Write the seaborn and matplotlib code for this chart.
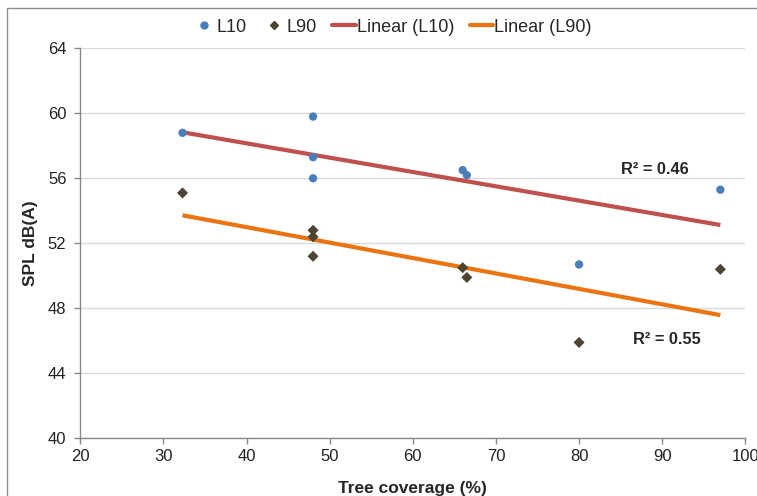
import matplotlib
matplotlib.use("Agg")
import matplotlib.pyplot as plt
import seaborn as sns
import pandas as pd
from matplotlib.lines import Line2D
from matplotlib.patches import Rectangle

tree_coverage = [32.3, 48.0, 48.0, 48.0, 66.0, 66.5, 80.0, 97.0]
l10 = [58.8, 59.8, 57.3, 56.0, 56.5, 56.2, 50.7, 55.3]
l90 = [55.1, 52.8, 52.4, 51.2, 50.5, 49.9, 45.9, 50.4]
x_ticks = [20, 30, 40, 50, 60, 70, 80, 90, 100]
y_ticks = [40, 44, 48, 52, 56, 60, 64]
r2_labels = ["R² = 0.46", "R² = 0.55"]

df = pd.DataFrame({"x": tree_coverage, "L10": l10, "L90": l90})

sns.set_theme(style="white")
plt.rcParams['font.family'] = ['Liberation Sans', 'DejaVu Sans']

c_l10 = "#4a7ebb"
c_l90 = "#4d4532"
c_lin10 = "#c0504d"
c_lin90 = "#ec7410"

fig = plt.figure(figsize=(7.57, 4.96), dpi=100)
ax = fig.add_axes([80.3/757, 1-438.3/496, (745.3-80.3)/757, (438.3-48.3)/496])

# chart border (cropped Excel chart area)
fig.patches.append(Rectangle((7/757, -0.1), 1.2, 1 - 8/496 + 0.1, transform=fig.transFigure,
                             fill=False, edgecolor="#8c8c8c", linewidth=1.0))

sns.regplot(data=df, x="x", y="L10", scatter=False, ci=None, ax=ax,
            line_kws=dict(color=c_lin10, lw=3.0, solid_capstyle="butt", zorder=2))
sns.regplot(data=df, x="x", y="L90", scatter=False, ci=None, ax=ax,
            line_kws=dict(color=c_lin90, lw=3.0, solid_capstyle="butt", zorder=2))
sns.scatterplot(data=df, x="x", y="L10", ax=ax, color=c_l10, marker="o", s=36,
                edgecolor="none", zorder=3)
sns.scatterplot(data=df, x="x", y="L90", ax=ax, color=c_l90, marker="D", s=32,
                edgecolor="none", zorder=3)

ax.set_xlim(20, 100)
ax.set_ylim(40, 64)
ax.set_xticks(x_ticks)
ax.set_yticks(y_ticks)
ax.grid(axis="y", color="#d9d9d9", linewidth=1.0)
ax.set_axisbelow(True)
for s in ["top", "right"]:
    ax.spines[s].set_visible(False)
for s in ["left", "bottom"]:
    ax.spines[s].set_color("#888888")
    ax.spines[s].set_linewidth(1.0)
ax.tick_params(axis="both", which="major", direction="out", length=4, width=1,
               color="#888888", labelsize=12, labelcolor="#222222",
               left=True, bottom=True)
ax.tick_params(axis="y", pad=6)
ax.tick_params(axis="x", pad=4)

ax.set_xlabel("Tree coverage (%)", fontsize=12.5, fontweight="bold", labelpad=12)
ax.set_ylabel("SPL dB(A)", fontsize=12.5, fontweight="bold", labelpad=7)

ax.text(89.1, 56.57, r2_labels[0], fontsize=11.8, fontweight="bold", ha="center", va="center")
ax.text(90.6, 46.09, r2_labels[1], fontsize=11.8, fontweight="bold", ha="center", va="center")

handles = [
    Line2D([], [], ls="none", marker="o", color=c_l10, markersize=5),
    Line2D([], [], ls="none", marker="D", color=c_l90, markersize=4.5),
    Line2D([], [], color=c_lin10, lw=3),
    Line2D([], [], color=c_lin90, lw=3),
]
labels = ["L10", "L90", "Linear (L10)", "Linear (L90)"]
fig.legend(handles, labels, loc="center", bbox_to_anchor=(392/757, 1-27/496), ncol=4,
           frameon=False, fontsize=13, handlelength=1.3, handletextpad=0.05,
           columnspacing=0.85, borderpad=0, borderaxespad=0)

fig.savefig("out.png", dpi=100)
